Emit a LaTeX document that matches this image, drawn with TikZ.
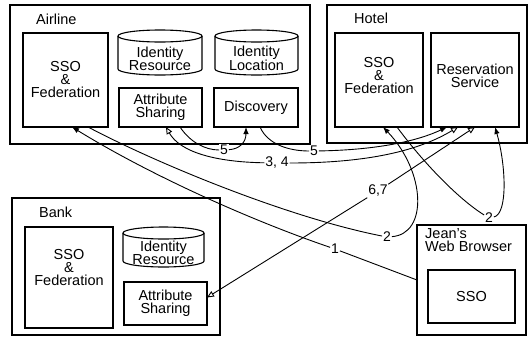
\documentclass[tikz,border=0pt]{standalone}
\usepackage{fontspec}
\setmainfont{Liberation Sans}
\usetikzlibrary{arrows.meta,calc}
\newcommand\mycyl[2]{%
  \draw[box] ($(#1.north west)+(0,-6)$) -- ($(#1.south west)+(0,-6)$)
     arc[start angle=180,end angle=0,x radius=#2,y radius=6]
     -- ($(#1.north east)+(0,-6)$);
  \draw[box] ($(#1.north)+(0,-6)$) ellipse[x radius=#2,y radius=6];}
\begin{document}
\begin{tikzpicture}[x=1pt,y=-1pt,
  outer/.style={draw,line width=1.5pt,inner sep=0,outer sep=0},
  box/.style={draw,line width=1.1pt,inner sep=0,outer sep=0},
  hid/.style={inner sep=0,outer sep=0,align=center,font=\fontsize{14.5}{13}\selectfont},
  txt/.style={align=center,inner sep=0,font=\fontsize{14.5}{13}\selectfont},
  ttl/.style={anchor=west,inner sep=0,font=\fontsize{14.5}{13}\selectfont},
  num/.style={inner sep=0.8pt,fill=white,font=\fontsize{14}{14}\selectfont},
  conn/.style={line width=0.9pt},
  sa/.style={-{Latex[length=7pt,width=5.5pt]}},
  ot/.style={-{Triangle[open,length=7pt,width=6pt]}},
]
\useasboundingbox (0,0) rectangle (530,338);

% Airline
\node[outer,minimum width=300,minimum height=139] (air) at (160,74.5) {};
\node[ttl] (airt) at (36,19) {Airline};
\node[box,minimum width=85,minimum height=94] (aso) at (65.5,80) {};
\node[txt] (asot) at (65.5,80) {SSO\\\&\\Federation};
\node[hid,minimum width=84,minimum height=33] (air-ir) at (160,58.5) {Identity\\Resource};
\mycyl{air-ir}{42}
\node[hid,minimum width=83,minimum height=33] (air-il) at (256.5,58.5) {Identity\\Location};
\mycyl{air-il}{41.5}
\node[box,txt,minimum width=83,minimum height=39] (aas) at (160.5,107.5) {Attribute\\Sharing};
\node[box,txt,minimum width=84,minimum height=39] (disc) at (256,107.5) {Discovery};

% Hotel
\node[outer,minimum width=200,minimum height=138] (hot) at (427,74) {};
\node[ttl] (hott) at (354,18) {Hotel};
\node[box,minimum width=88,minimum height=94] (hso) at (379,80) {};
\node[txt] (hsot) at (379,76) {SSO\\\&\\Federation};
\node[box,minimum width=88,minimum height=94] (res) at (475,80) {};
\node[txt] (rest) at (475,76) {Reservation\\Service};

% Bank
\node[outer,minimum width=208,minimum height=137] (bank) at (116,266.5) {};
\node[ttl] (bankt) at (39,212) {Bank};
\node[box,minimum width=88,minimum height=101] (bso) at (69,277.5) {};
\node[txt] (bsot) at (69,268) {SSO\\\&\\Federation};
\node[hid,minimum width=81,minimum height=28] (bank-ir) at (163.5,253) {Identity\\Resource};
\mycyl{bank-ir}{40.5}
\node[box,txt,minimum width=83,minimum height=43] (bas) at (165.5,303.5) {Attribute\\Sharing};

% Browser
\node[outer,minimum width=109,minimum height=110] (br) at (471.5,280) {};
\node[txt,anchor=north west,align=left] (brt) at (425,228) {Jean’s\\Web Browser};
\node[box,txt,minimum width=87,minimum height=53] (bsso) at (471.5,296.5) {SSO};

% labels
\node[num] (l1) at (335,249) {1};
\node[num] (l2a) at (387,237) {2};
\node[num] (l2b) at (489,218) {2};
\node[num] (l34) at (277,163) {3, 4};
\node[num] (l5a) at (224,150) {5};
\node[num] (l5b) at (314,151) {5};
\node[num] (l67) at (378,191) {6,7};

% 1
\draw[conn] (br.west) -- (l1);
\draw[conn,sa] (l1) .. controls (250,220) and (150,175) .. ($(aso.south west)+(49,0)$);
% 2 (first)
\draw[conn] ($(aso.south west)+(65,0)$) .. controls (160,165) and (290,218) .. (l2a);
\draw[conn,sa] (l2a) .. controls (428,234) and (426,172) .. ($(hso.south west)+(48,0)$);
% 2 (second)
\draw[conn] ($(hso.south west)+(62,0)$) .. controls (425,165) and (460,200) .. (l2b);
\draw[conn,sa] (l2b) .. controls (508,214) and (506,165) .. ($(res.south west)+(64,0)$);
% 3,4
\draw[conn,ot] (l34) .. controls (215,162) and (180,152) .. ($(aas.south west)+(47,0)$);
\draw[conn,ot] (l34) .. controls (370,163) and (420,150) .. ($(res.south west)+(27,0)$);
% 5 (first)
\draw[conn] ($(aas.south west)+(61,0)$) .. controls (190,142) and (205,150) .. (l5a);
\draw[conn,sa] (l5a) .. controls (240,149) and (246,142) .. ($(disc.south west)+(32,0)$);
% 5 (second)
\draw[conn] ($(disc.south west)+(46,0)$) .. controls (268,145) and (290,151) .. (l5b);
\draw[conn,sa] (l5b) .. controls (380,150) and (420,140) .. ($(res.south west)+(16,0)$);
% 6,7
\draw[conn,ot] (l67) -- ($(bas.east)+(0,-6)$);
\draw[conn,ot] (l67) -- ($(res.south west)+(44,0)$);
\end{tikzpicture}
\end{document}
